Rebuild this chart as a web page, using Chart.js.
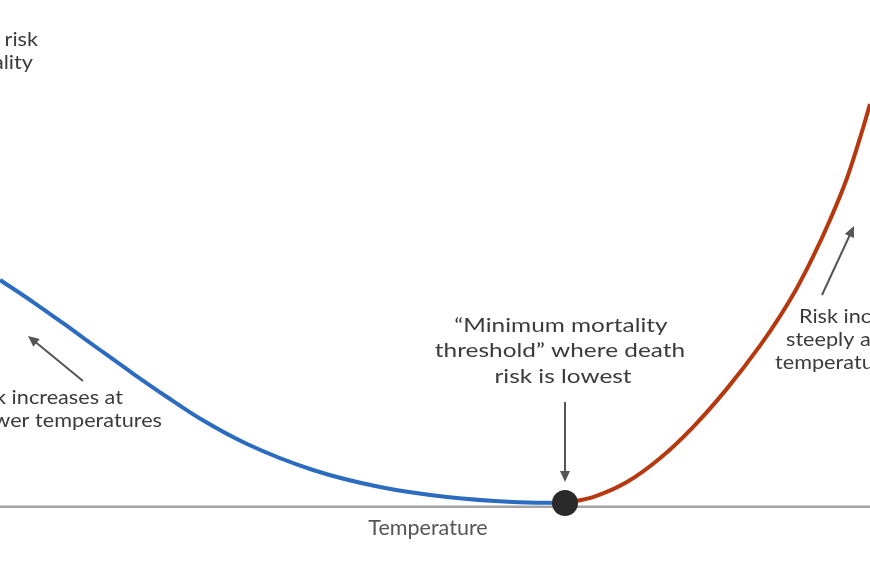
<!DOCTYPE html>
<html>
<head>
<meta charset="utf-8">
<script src="https://cdn.jsdelivr.net/npm/chart.js@4"></script>
<style>
  html, body { margin: 0; padding: 0; background: #fff; }
  #riskChart { display: block; }
</style>
</head>
<body>
<canvas id="riskChart" width="870" height="570"></canvas>
<script>
// temperature (°C, illustrative) and relative mortality risk
const coldTemps = [-10, -8.1, -6.15, -4.25, -2.36, -0.4, 1.49, 4.2, 7.99, 11.84, 15.69, 19.48, 22.47];
const coldRisk  = [44.74, 40.39, 35.66, 30.92, 26.28, 21.65, 17.4, 12.37, 7.24, 3.88, 1.91, 0.92, 0.72];
const hotTemps  = [22.47, 24.08, 26.03, 27.93, 29.83, 31.78, 33.68, 34.83, 35.8, 36.72, 37.7, 38.68, 39.6, 40.0];
const hotRisk   = [0.72, 1.89, 4.85, 9.55, 15.72, 23.3, 31.77, 37.61, 43.16, 49.28, 56.58, 64.87, 74.74, 79.47];
const minTemp = 22.47;
const minRisk = 0.72;

const toPoints = (xs, ys) => xs.map((x, i) => ({ x: x, y: ys[i] }));

// the original artwork is a bit stretched sideways, so text gets a horizontal scale
function label(ctx, text, x, y, size, align, stretch) {
  ctx.save();
  ctx.translate(x, y);
  ctx.scale(stretch, 1);
  ctx.font = size + 'px Lato';
  ctx.textAlign = align;
  ctx.fillText(text, 0, 0);
  ctx.restore();
}

function drawArrow(ctx, x1, y1, x2, y2) {
  const ang = Math.atan2(y2 - y1, x2 - x1);
  const len = 11, half = 5;
  ctx.strokeStyle = '#555';
  ctx.fillStyle = '#555';
  ctx.lineWidth = 2;
  ctx.beginPath();
  ctx.moveTo(x1, y1);
  ctx.lineTo(x2 - Math.cos(ang) * len * 0.8, y2 - Math.sin(ang) * len * 0.8);
  ctx.stroke();
  ctx.beginPath();
  ctx.moveTo(x2, y2);
  ctx.lineTo(x2 - Math.cos(ang) * len - Math.sin(ang) * half, y2 - Math.sin(ang) * len + Math.cos(ang) * half);
  ctx.lineTo(x2 - Math.cos(ang) * len + Math.sin(ang) * half, y2 - Math.sin(ang) * len - Math.cos(ang) * half);
  ctx.closePath();
  ctx.fill();
}

const annotations = {
  id: 'annotations',
  beforeDatasetsDraw(chart) {
    const { ctx, chartArea, scales } = chart;
    const y0 = scales.y.getPixelForValue(0);
    ctx.save();
    ctx.strokeStyle = '#a3a3a3';
    ctx.lineWidth = 2.5;
    ctx.beginPath();
    ctx.moveTo(chartArea.left, y0);
    ctx.lineTo(chartArea.right, y0);
    ctx.stroke();
    ctx.restore();
  },
  afterDatasetsDraw(chart) {
    const ctx = chart.ctx;
    ctx.save();
    ctx.fillStyle = '#3b3b3b';
    ctx.textBaseline = 'alphabetic';

    label(ctx, 'Relative risk', 38, 46, 19, 'right', 1.14);
    label(ctx, 'of mortality', 33, 69, 19, 'right', 1.14);

    label(ctx, '\u201CMinimum mortality', 561, 332, 20, 'center', 1.22);
    label(ctx, 'threshold\u201D where death', 560, 357, 20, 'center', 1.22);
    label(ctx, 'risk is lowest', 563, 383, 20, 'center', 1.22);

    label(ctx, 'Risk increases at', 123, 404, 19, 'right', 1.14);
    label(ctx, 'lower temperatures', 162, 427, 19, 'right', 1.14);

    label(ctx, 'Risk increases', 799, 323, 19, 'left', 1.14);
    label(ctx, 'steeply at higher', 786, 346, 19, 'left', 1.14);
    label(ctx, 'temperatures', 775, 369, 19, 'left', 1.14);

    ctx.fillStyle = '#555';
    label(ctx, 'Temperature', 428, 535, 20.5, 'center', 1.05);

    drawArrow(ctx, 83, 381, 28, 336);
    drawArrow(ctx, 565, 402, 565, 482);
    drawArrow(ctx, 822, 295, 854, 226);
    ctx.restore();
  }
};

const ctx = document.getElementById('riskChart').getContext('2d');
new Chart(ctx, {
  type: 'scatter',
  data: {
    datasets: [
      {
        label: 'Minimum',
        data: [{ x: minTemp, y: minRisk }],
        pointRadius: 13,
        pointBackgroundColor: '#2a2a2a',
        pointBorderWidth: 0,
        order: 0,
        clip: false
      },
      {
        label: 'Heat',
        data: toPoints(hotTemps, hotRisk),
        showLine: true,
        borderColor: '#b5380f',
        borderWidth: 4,
        pointRadius: 0,
        cubicInterpolationMode: 'monotone',
        order: 1,
        clip: false
      },
      {
        label: 'Cold',
        data: toPoints(coldTemps, coldRisk),
        showLine: true,
        borderColor: '#2c6cc0',
        borderWidth: 4,
        pointRadius: 0,
        cubicInterpolationMode: 'monotone',
        order: 2,
        clip: false
      }
    ]
  },
  options: {
    responsive: false,
    animation: false,
    layout: { padding: 0, autoPadding: false },
    plugins: {
      legend: { display: false },
      tooltip: { enabled: false }
    },
    scales: {
      x: { type: 'linear', min: -10, max: 40, display: false },
      y: { min: -12.5, max: 100, display: false }
    }
  },
  plugins: [annotations]
});
</script>
</body>
</html>
